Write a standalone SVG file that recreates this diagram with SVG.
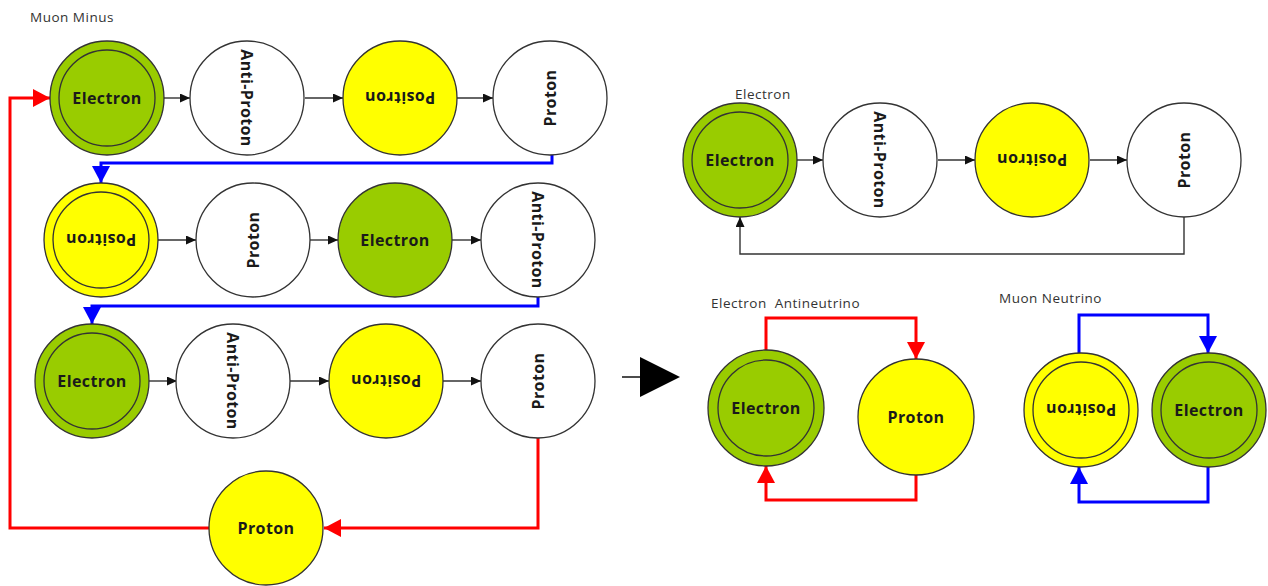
<svg xmlns="http://www.w3.org/2000/svg" width="1268" height="586" viewBox="0 0 1268 586">
<style>
.g{fill:#99cc00;stroke:#333;stroke-width:1.3}
.y{fill:#ffff00;stroke:#333;stroke-width:1.3}
.w{fill:#ffffff;stroke:#333;stroke-width:1.3}
.in{fill:none;stroke:#333;stroke-width:1.3}
.t{font-family:"Open Sans","Liberation Sans",sans-serif;font-weight:bold;font-size:16px;letter-spacing:0.4px;fill:#1a1a1a;text-anchor:middle;dominant-baseline:central}
.lbl{font-family:"Open Sans","Liberation Sans",sans-serif;font-size:13.5px;letter-spacing:0.5px;fill:#333}
.k{fill:none;stroke:#333;stroke-width:1.4}
.b{fill:none;stroke:#0000ff;stroke-width:3}
.r{fill:none;stroke:#ff0000;stroke-width:3}
</style>
<defs>
<marker id="ak" markerUnits="userSpaceOnUse" markerWidth="10" markerHeight="9" refX="10" refY="4.5" orient="auto"><path d="M0,0 L10,4.5 L0,9 z" fill="#111"/></marker>
<marker id="ab" markerUnits="userSpaceOnUse" markerWidth="17" markerHeight="18" refX="17" refY="9" orient="auto"><path d="M0,0 L17,9 L0,18 z" fill="#0000ff"/></marker>
<marker id="ar" markerUnits="userSpaceOnUse" markerWidth="17" markerHeight="18" refX="17" refY="9" orient="auto"><path d="M0,0 L17,9 L0,18 z" fill="#ff0000"/></marker>
</defs>

<text class="lbl" x="30" y="22">Muon Minus</text>
<text class="lbl" x="735" y="99">Electron</text>
<text class="lbl" x="711" y="308" xml:space="preserve">Electron  Antineutrino</text>
<text class="lbl" x="999" y="303">Muon Neutrino</text>

<g id="connectors">
<path class="k" marker-end="url(#ak)" d="M163,98 H190"/>
<path class="k" marker-end="url(#ak)" d="M305,98 H343"/>
<path class="k" marker-end="url(#ak)" d="M457,98 H493"/>
<path class="b" marker-end="url(#ab)" d="M552,155 V163 H101 V183"/>
<path class="k" marker-end="url(#ak)" d="M158,240 H196"/>
<path class="k" marker-end="url(#ak)" d="M310,240 H338"/>
<path class="k" marker-end="url(#ak)" d="M452,240 H481"/>
<path class="b" marker-end="url(#ab)" d="M538,297 V306 H92 V324"/>
<path class="k" marker-end="url(#ak)" d="M148,381 H177"/>
<path class="k" marker-end="url(#ak)" d="M290,381 H329"/>
<path class="k" marker-end="url(#ak)" d="M443,381 H481"/>
<path class="r" marker-end="url(#ar)" d="M538,438 V528 H324"/>
<path class="r" marker-end="url(#ar)" d="M209,528 H10 V98 H50"/>
<path class="k" marker-end="url(#ak)" d="M797,160 H823"/>
<path class="k" marker-end="url(#ak)" d="M938,160 H975"/>
<path class="k" marker-end="url(#ak)" d="M1090,160 H1127"/>
<path class="k" marker-end="url(#ak)" d="M1184,217 V254 H740 V217"/>
<path d="M622,377 H642" stroke="#111" stroke-width="1.5" fill="none"/>
<polygon points="640,357 680,377 640,397" fill="#000"/>
<path class="r" marker-end="url(#ar)" d="M766,350 V318 H916 V359"/>
<path class="r" marker-end="url(#ar)" d="M916,475 V500 H766 V466"/>
<path class="b" marker-end="url(#ab)" d="M1079,353 V315 H1208 V353"/>
<path class="b" marker-end="url(#ab)" d="M1208,467 V502 H1079 V467"/>
</g>

<g id="r1-electron"><circle class="g" cx="107" cy="98" r="57"/><circle class="in" cx="107" cy="98" r="48"/><text class="t" x="107" y="98">Electron</text></g>
<g id="r1-antiproton"><circle class="w" cx="247" cy="98" r="57"/><text class="t" transform="translate(247,98) rotate(90)">Anti-Proton</text></g>
<g id="r1-positron"><circle class="y" cx="400" cy="98" r="57"/><text class="t" transform="translate(400,98) rotate(180)">Positron</text></g>
<g id="r1-proton"><circle class="w" cx="550" cy="98" r="57"/><text class="t" transform="translate(550,98) rotate(-90)">Proton</text></g>

<g id="r2-positron"><circle class="y" cx="101" cy="240" r="57"/><circle class="in" cx="101" cy="240" r="48"/><text class="t" transform="translate(101,240) rotate(180)">Positron</text></g>
<g id="r2-proton"><circle class="w" cx="253" cy="240" r="57"/><text class="t" transform="translate(253,240) rotate(-90)">Proton</text></g>
<g id="r2-electron"><circle class="g" cx="395" cy="240" r="57"/><text class="t" x="395" y="240">Electron</text></g>
<g id="r2-antiproton"><circle class="w" cx="538" cy="240" r="57"/><text class="t" transform="translate(538,240) rotate(90)">Anti-Proton</text></g>

<g id="r3-electron"><circle class="g" cx="92" cy="381" r="57"/><circle class="in" cx="92" cy="381" r="48"/><text class="t" x="92" y="381">Electron</text></g>
<g id="r3-antiproton"><circle class="w" cx="233" cy="381" r="57"/><text class="t" transform="translate(233,381) rotate(90)">Anti-Proton</text></g>
<g id="r3-positron"><circle class="y" cx="386" cy="381" r="57"/><text class="t" transform="translate(386,381) rotate(180)">Positron</text></g>
<g id="r3-proton"><circle class="w" cx="538" cy="381" r="57"/><text class="t" transform="translate(538,381) rotate(-90)">Proton</text></g>

<g id="bottom-proton"><circle class="y" cx="266" cy="528" r="57"/><text class="t" x="266" y="528">Proton</text></g>

<g id="e-electron"><circle class="g" cx="740" cy="160" r="57"/><circle class="in" cx="740" cy="160" r="48"/><text class="t" x="740" y="160">Electron</text></g>
<g id="e-antiproton"><circle class="w" cx="880" cy="160" r="57"/><text class="t" transform="translate(880,160) rotate(90)">Anti-Proton</text></g>
<g id="e-positron"><circle class="y" cx="1032" cy="160" r="57"/><text class="t" transform="translate(1032,160) rotate(180)">Positron</text></g>
<g id="e-proton"><circle class="w" cx="1184" cy="160" r="57"/><text class="t" transform="translate(1184,160) rotate(-90)">Proton</text></g>

<g id="ea-electron"><circle class="g" cx="766" cy="408" r="58"/><circle class="in" cx="766" cy="408" r="48"/><text class="t" x="766" y="408">Electron</text></g>
<g id="ea-proton"><circle class="y" cx="916" cy="417" r="58"/><text class="t" x="916" y="417">Proton</text></g>

<g id="mn-positron"><circle class="y" cx="1081" cy="410" r="57"/><circle class="in" cx="1081" cy="410" r="48"/><text class="t" transform="translate(1081,410) rotate(180)">Positron</text></g>
<g id="mn-electron"><circle class="g" cx="1209" cy="410" r="57"/><circle class="in" cx="1209" cy="410" r="48"/><text class="t" x="1209" y="410">Electron</text></g>
</svg>
